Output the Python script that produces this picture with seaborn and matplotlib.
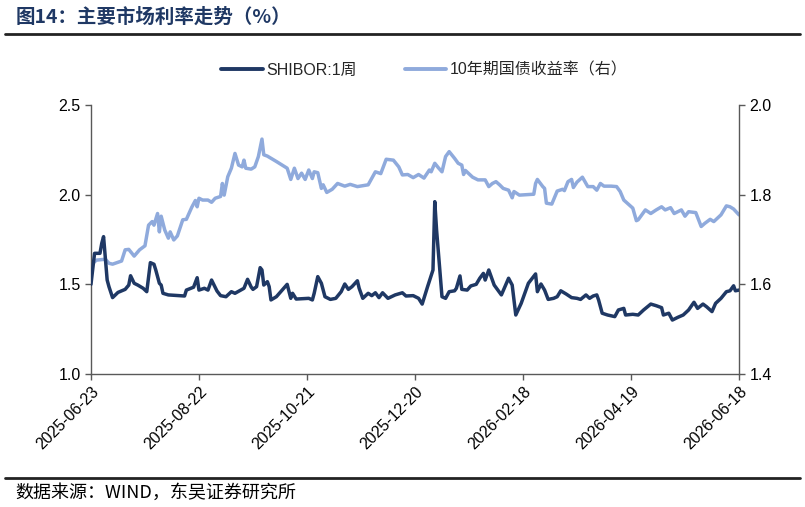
import pandas as pd
import seaborn as sns
import matplotlib.pyplot as plt
import matplotlib.dates as mdates
from matplotlib.lines import Line2D

# Données (jours depuis 2025-06-23, valeurs en %)
start_date = "2025-06-23"

shibor_days = [0, 2, 5, 6, 7, 9, 10, 12, 15, 19, 21, 22, 24, 26, 29, 31, 33, 35, 36, 38,
               39, 40, 43, 52, 53, 57, 59, 60, 63, 65, 67, 70, 72, 75, 78, 80, 85, 87, 89, 90,
               92, 94, 95, 96, 98, 99, 100, 103, 109, 111, 112, 114, 121, 123, 124, 126, 128, 130, 133, 136,
               139, 141, 143, 145, 148, 149, 151, 154, 156, 158, 160, 162, 165, 169, 173, 175, 179, 182, 184, 187,
               190, 191, 192, 195, 197, 199, 202, 203, 205, 206, 209, 211, 214, 216, 218, 219, 221, 224, 226, 228,
               230, 232, 234, 236, 239, 243, 247, 248, 250, 252, 254, 257, 259, 261, 264, 267, 270, 272, 275, 277,
               279, 281, 282, 284, 287, 291, 293, 296, 297, 301, 304, 307, 311, 314, 317, 318, 321, 323, 326, 329,
               332, 335, 337, 340, 342, 345, 347, 350, 353, 355, 357, 358, 360]
shibor_vals = [1.500, 1.673, 1.673, 1.729, 1.766, 1.524, 1.487, 1.426, 1.455, 1.472, 1.496, 1.548, 1.506, 1.496, 1.478, 1.459, 1.621, 1.612, 1.580, 1.506,
               1.496, 1.450, 1.441, 1.435, 1.468, 1.484, 1.537, 1.468, 1.478, 1.468, 1.524, 1.463, 1.437, 1.431, 1.459, 1.450, 1.478, 1.528, 1.485, 1.472,
               1.487, 1.593, 1.580, 1.496, 1.515, 1.487, 1.413, 1.431, 1.500, 1.422, 1.450, 1.418, 1.422, 1.413, 1.450, 1.543, 1.506, 1.431, 1.416, 1.422,
               1.459, 1.502, 1.472, 1.487, 1.520, 1.478, 1.422, 1.450, 1.437, 1.453, 1.426, 1.453, 1.422, 1.441, 1.453, 1.435, 1.437, 1.422, 1.390, 1.487,
               1.580, 1.961, 1.803, 1.431, 1.422, 1.459, 1.464, 1.478, 1.547, 1.472, 1.468, 1.491, 1.500, 1.534, 1.561, 1.524, 1.580, 1.496, 1.468, 1.441,
               1.487, 1.534, 1.496, 1.329, 1.394, 1.506, 1.558, 1.459, 1.502, 1.468, 1.416, 1.422, 1.431, 1.464, 1.446, 1.426, 1.422, 1.416, 1.441, 1.422,
               1.435, 1.441, 1.413, 1.339, 1.329, 1.320, 1.357, 1.366, 1.329, 1.333, 1.329, 1.357, 1.390, 1.381, 1.370, 1.329, 1.339, 1.301, 1.316, 1.329,
               1.357, 1.400, 1.366, 1.390, 1.375, 1.348, 1.394, 1.422, 1.459, 1.464, 1.492, 1.464, 1.468]

bond_days = [0, 3, 8, 10, 12, 17, 19, 21, 24, 27, 30, 32, 34, 35, 37, 38, 39, 41, 43, 44,
             46, 48, 51, 53, 56, 58, 59, 60, 62, 65, 67, 69, 72, 73, 74, 76, 78, 80, 82, 84,
             85, 86, 89, 91, 93, 95, 96, 98, 103, 109, 111, 113, 115, 117, 119, 121, 123, 124, 126, 128,
             129, 131, 134, 137, 141, 144, 148, 154, 158, 161, 164, 168, 171, 173, 176, 179, 182, 185, 188, 189,
             191, 193, 195, 197, 199, 202, 204, 206, 207, 208, 212, 215, 219, 221, 223, 225, 227, 229, 232, 234,
             235, 238, 246, 247, 248, 251, 252, 253, 256, 259, 262, 263, 265, 267, 268, 270, 273, 276, 279, 281,
             283, 285, 289, 292, 294, 296, 299, 301, 303, 304, 308, 311, 314, 317, 319, 322, 324, 328, 330, 332,
             336, 339, 341, 344, 346, 350, 353, 355, 357, 360]
bond_vals = [1.643, 1.654, 1.656, 1.647, 1.645, 1.652, 1.677, 1.678, 1.663, 1.677, 1.686, 1.732, 1.740, 1.732, 1.758, 1.717, 1.752, 1.721, 1.703, 1.717,
             1.699, 1.708, 1.744, 1.745, 1.772, 1.787, 1.773, 1.792, 1.788, 1.788, 1.783, 1.792, 1.796, 1.825, 1.799, 1.840, 1.859, 1.892, 1.866, 1.862,
             1.877, 1.859, 1.857, 1.862, 1.885, 1.924, 1.889, 1.886, 1.874, 1.859, 1.834, 1.859, 1.836, 1.848, 1.834, 1.855, 1.836, 1.851, 1.849, 1.814,
             1.822, 1.805, 1.812, 1.825, 1.819, 1.823, 1.818, 1.822, 1.851, 1.847, 1.879, 1.877, 1.862, 1.844, 1.845, 1.838, 1.845, 1.837, 1.855, 1.851,
             1.870, 1.860, 1.851, 1.885, 1.896, 1.881, 1.870, 1.866, 1.845, 1.854, 1.839, 1.833, 1.833, 1.818, 1.825, 1.829, 1.822, 1.814, 1.810, 1.793,
             1.807, 1.799, 1.801, 1.825, 1.834, 1.818, 1.814, 1.781, 1.779, 1.808, 1.812, 1.809, 1.829, 1.834, 1.816, 1.828, 1.839, 1.818, 1.818, 1.810,
             1.825, 1.819, 1.819, 1.818, 1.807, 1.788, 1.777, 1.770, 1.742, 1.744, 1.766, 1.758, 1.766, 1.773, 1.766, 1.771, 1.758, 1.766, 1.752, 1.762,
             1.760, 1.729, 1.736, 1.745, 1.740, 1.755, 1.775, 1.773, 1.768, 1.755]

tick_dates = ["2025-06-23", "2025-08-22", "2025-10-21", "2025-12-20",
              "2026-02-18", "2026-04-19", "2026-06-18"]

shibor_label = "SHIBOR:1周"
bond_label = "10年期国债收益率（右）"
title = "图14：主要市场利率走势（%）"
source = "数据来源：WIND，东吴证券研究所"

dark = "#1F3864"
light = "#8FAADC"

t0 = pd.Timestamp(start_date)
shibor_df = pd.DataFrame({"date": t0 + pd.to_timedelta(shibor_days, unit="D"), "val": shibor_vals})
bond_df = pd.DataFrame({"date": t0 + pd.to_timedelta(bond_days, unit="D"), "val": bond_vals})

sns.set_style("ticks")
plt.rcParams['font.family'] = ['Liberation Sans', 'Noto Sans CJK SC', 'DejaVu Sans']

fig = plt.figure(figsize=(8.05, 5.07), dpi=100)
ax = fig.add_axes([0.113, 0.2623, 0.805, 0.5306])
ax2 = ax.twinx()

sns.lineplot(data=shibor_df, x="date", y="val", ax=ax, color=dark, linewidth=2.5, zorder=3)
sns.lineplot(data=bond_df, x="date", y="val", ax=ax2, color=light, linewidth=2.5, zorder=2)
ax.set_zorder(ax2.get_zorder() + 1)
ax.patch.set_visible(False)

ax.set_xlim(pd.Timestamp(tick_dates[0]), pd.Timestamp(tick_dates[-1]))
ax.set_ylim(1.0, 2.5)
ax2.set_ylim(1.4, 2.0)
ax.set_yticks([1.0, 1.5, 2.0, 2.5])
ax2.set_yticks([1.4, 1.6, 1.8, 2.0])
ax.yaxis.set_major_formatter(plt.FormatStrFormatter('%.1f'))
ax2.yaxis.set_major_formatter(plt.FormatStrFormatter('%.1f'))
ax.set_xticks(pd.to_datetime(tick_dates))
ax.xaxis.set_major_formatter(mdates.DateFormatter('%Y-%m-%d'))
plt.setp(ax.get_xticklabels(), rotation=45, ha='right', rotation_mode='anchor')

ax.set_xlabel("")
ax.set_ylabel("")
ax2.set_ylabel("")

for a in (ax, ax2):
    a.spines['top'].set_visible(False)
    for s in ('left', 'right', 'bottom'):
        a.spines[s].set_color('#595959')
        a.spines[s].set_linewidth(1.0)
    a.tick_params(labelsize=11.5, length=4, width=1.0, color='#595959', labelcolor='black')
ax.spines['right'].set_visible(False)
ax2.spines['left'].set_visible(False)
ax2.spines['bottom'].set_visible(False)
ax.tick_params(axis='x', pad=3)

handles = [Line2D([], [], color=dark, linewidth=2.8), Line2D([], [], color=light, linewidth=2.8)]
fig.legend(handles, [shibor_label, bond_label], loc='center', bbox_to_anchor=(0.527, 0.862),
           ncol=2, frameon=False, fontsize=11.5, handlelength=2.6, columnspacing=3.0, handletextpad=0.2,
           prop={'family': ['Liberation Sans', 'Noto Sans CJK SC'], 'size': 11.5})

fig.text(0.019, 0.966, title, fontsize=14, fontweight='bold', color=dark, va='center', ha='left',
         family=['Noto Sans CJK SC', 'DejaVu Sans'])
fig.text(0.019, 0.027, source, fontsize=13, color='black', va='center', ha='left',
         family=['Noto Sans CJK SC', 'DejaVu Sans'])
fig.add_artist(Line2D([0.006, 0.994], [0.932, 0.932], color='#222222', linewidth=2.0, transform=fig.transFigure))
fig.add_artist(Line2D([0.006, 0.994], [0.057, 0.057], color='#222222', linewidth=2.0, transform=fig.transFigure))

fig.savefig("out.png", dpi=100)
